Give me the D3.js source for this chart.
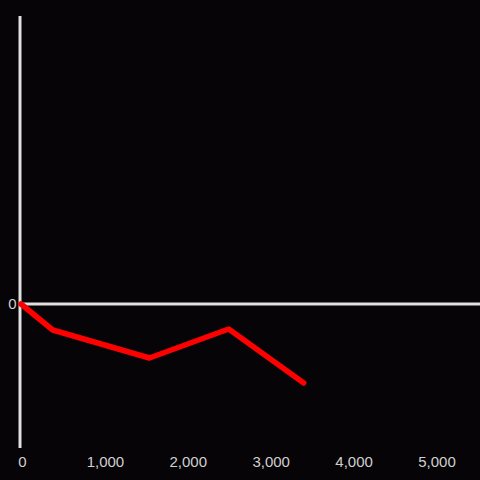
<!DOCTYPE html>
<html><head><meta charset="utf-8">
<script src="https://cdn.jsdelivr.net/npm/d3@7"></script>
<style>html,body{margin:0;padding:0;background:#060407;}svg{display:block;}</style>
</head><body>
<script>
const xValues = [0, 380, 1540, 2490, 3390];
const yValues = [0, -26, -54, -25, -79];
const xTicks = [0, 1000, 2000, 3000, 4000, 5000];
const yTicks = [0];

const W = 480, H = 480;
const FONT = "'Liberation Sans', Arial, sans-serif";
const svg = d3.select("body").append("svg").attr("width", W).attr("height", H);
svg.append("rect").attr("width", W).attr("height", H).attr("fill", "#060407");

const x = d3.scaleLinear().domain([0, 5000]).range([21, 438]);
const xLab = d3.scaleLinear().domain([0, 5000]).range([22.5, 437]);
const y = d3.scaleLinear().domain([-144, 288]).range([448, 16]);

// y axis line
svg.append("line").attr("x1", 20).attr("x2", 20).attr("y1", y(288)).attr("y2", y(-144))
  .attr("stroke", "#e0e0e0").attr("stroke-width", 3);
// zero line
svg.append("line").attr("x1", 20).attr("x2", W).attr("y1", y(0)).attr("y2", y(0))
  .attr("stroke", "#e0e0e0").attr("stroke-width", 3);

// y tick labels
svg.selectAll(".ylab").data(yTicks).enter().append("text")
  .attr("x", 16.5).attr("y", d => y(d)).attr("dy", "0.35em")
  .attr("text-anchor", "end").attr("fill", "#d0d0d0")
  .style("font-family", FONT).style("font-size", "15px")
  .text(d => d3.format(",")(d));

// x tick labels
svg.selectAll(".xlab").data(xTicks).enter().append("text")
  .attr("x", d => xLab(d)).attr("y", 467)
  .attr("text-anchor", "middle").attr("fill", "#d0d0d0")
  .style("font-family", FONT).style("font-size", "15px")
  .text(d => d3.format(",")(d));

const line = d3.line().x((d,i) => x(xValues[i])).y(d => y(d));
svg.append("path").datum(yValues).attr("d", line)
  .attr("fill", "none").attr("stroke", "#ff0000").attr("stroke-width", 5.5)
  .attr("stroke-linejoin", "round").attr("stroke-linecap", "round");
</script>
</body></html>
